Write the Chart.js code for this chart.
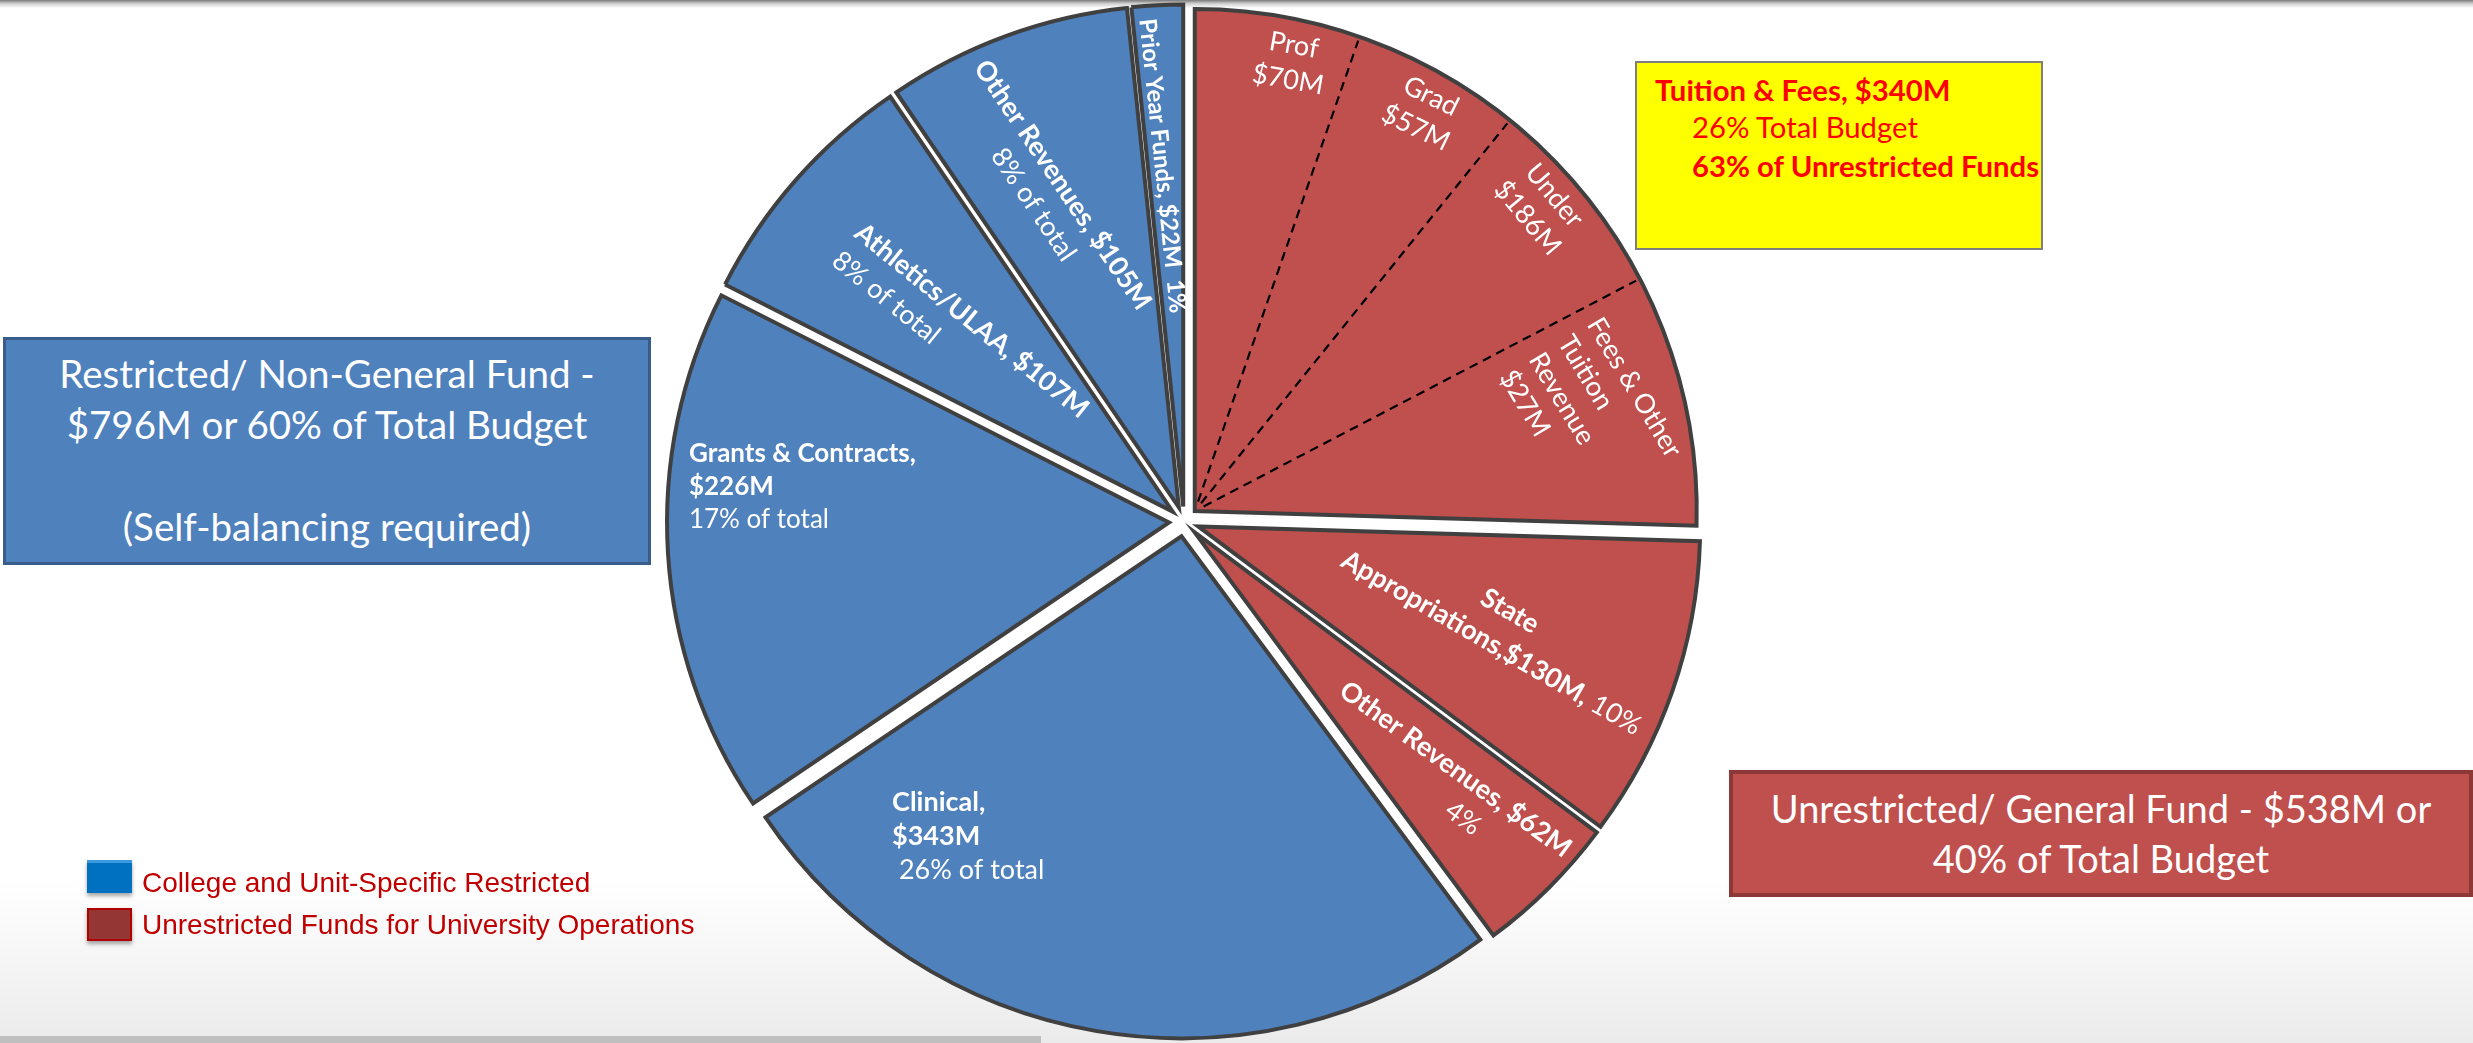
<!DOCTYPE html>
<html>
<head>
<meta charset="utf-8">
<script src="https://cdn.jsdelivr.net/npm/chart.js@4.4.1/dist/chart.umd.min.js"></script>
<style>
html,body{margin:0;padding:0;background:#fff;}
#stage{position:relative;width:2473px;height:1043px;overflow:hidden;background:#fff;font-family:Lato,'Open Sans',sans-serif;}
#topbar{position:absolute;left:0;top:0;width:2473px;height:8px;background:linear-gradient(#7a7a7a,#cfcfcf 45%,#ffffff);}
#bottomgrad{position:absolute;left:0;top:880px;width:2473px;height:163px;background:linear-gradient(#ffffff,#ebebeb);}
#bottombar{position:absolute;left:0;top:1036px;width:1041px;height:7px;background:#bfbfbf;}
#c{position:absolute;left:0;top:0;}
.box{position:absolute;box-sizing:border-box;}
#boxRestricted{left:3px;top:337px;width:648px;height:228px;background:#4F81BD;border:3px solid #385D8A;color:#fff;font-size:38.5px;line-height:51px;text-align:center;padding-top:8px;}
#boxUnrestricted{left:1729px;top:770px;width:744px;height:127px;background:#C0504D;border:4px solid #8C3836;color:#fff;font-size:38px;line-height:50px;text-align:center;padding-top:9px;}
#boxTuition{left:1635px;top:61px;width:408px;height:189px;background:#FFFF00;border:2px solid #7F7F7F;color:#FF0000;font-size:29.3px;line-height:38px;}
#boxTuition div{position:absolute;white-space:nowrap;}
#legend{position:absolute;left:0;top:0;}
.lg-sw{position:absolute;left:87px;width:45px;height:33px;box-sizing:border-box;box-shadow:0 3px 4px rgba(0,0,0,0.35);}
.lg-tx{position:absolute;left:142px;font-family:'Liberation Sans',Arial,sans-serif;font-size:28px;line-height:32px;color:#C00000;white-space:nowrap;}
</style>
</head>
<body>
<div id="stage">
  <div id="topbar"></div>
  <div id="bottomgrad"></div>
  <div id="bottombar"></div>
  <canvas id="c" width="2473" height="1043"></canvas>
  <div class="box" id="boxRestricted">
    <div>Restricted/ Non-General Fund -</div>
    <div>$796M or 60% of Total Budget</div>
    <div>&nbsp;</div>
    <div>(Self-balancing required)</div>
  </div>
  <div class="box" id="boxTuition">
    <div style="left:18px;top:8px;font-weight:bold;">Tuition &amp; Fees, $340M</div>
    <div style="left:55px;top:45px;">26% Total Budget</div>
    <div style="left:55px;top:84px;font-weight:bold;">63% of Unrestricted Funds</div>
  </div>
  <div class="box" id="boxUnrestricted">
    <div>Unrestricted/ General Fund - $538M or</div>
    <div>40% of Total Budget</div>
  </div>
  <div id="legend"></div>
</div>
<script>
// ---------------- DATA ----------------
const categories = ['Tuition & Fees', 'State Appropriations', 'Other Revenues (Unrestricted)', 'Clinical',
                    'Grants & Contracts', 'Athletics/ULAA', 'Other Revenues (Restricted)', 'Prior Year Funds'];
const valuesM = [340, 130, 62, 343, 226, 107, 105, 22];
const fundGroup = ['unrestricted', 'unrestricted', 'unrestricted', 'restricted',
                   'restricted', 'restricted', 'restricted', 'restricted'];
const groupKeys = ['restricted', 'unrestricted'];
const groupLabels = ['College and Unit-Specific Restricted', 'Unrestricted Funds for University Operations'];
const tuitionParts = ['Prof', 'Grad', 'Under', 'Fees & Other Tuition Revenue'];
const tuitionPartsM = [70, 57, 186, 27];

// ---------------- STYLE ----------------
const GROUP_COLORS = {restricted: '#4F81BD', unrestricted: '#C0504D'};
const LEGEND_SWATCH = {restricted: {bg: '#0070C0', bd: '#3C9AE0'}, unrestricted: {bg: '#943634', bd: '#B00000'}};
const EXPLODE_PX = [15, 15, 15, 15, 15, 15, 15, 15];
const DIVIDER_FRACS = [0.209, 0.424, 0.681];   // dashed sub-divisions inside the tuition slice
const FONT = 'Lato';

const R = (t) => ({t, b: false});
const B = (t) => ({t, b: true});
// label placement: slice index, fraction of slice angle, fraction of radius, rotation (deg)
const SLICE_LABELS = [
  {slice: 0, frac: 0.132, r: 0.914, rot: 10, align: 'center', lh: 35, size: 27, lines: [[R('Prof')], [R('$70M')]]},
  {slice: 0, frac: 0.325, r: 0.916, rot: 26, align: 'center', lh: 35, size: 27, lines: [[R('Grad')], [R('$57M')]]},
  {slice: 0, frac: 0.531, r: 0.918, rot: 50, align: 'center', lh: 35, size: 27, lines: [[R('Under')], [R('$186M')]]},
  {slice: 0, frac: 0.710, r: 0.780, rot: 59, align: 'left', lh: 34, size: 27,
   lines: [[R('Fees & Other')], [R('Tuition')], [R('Revenue')], [R('$27M')]]},
  {slice: 1, frac: 0.477, r: 0.635, rot: 30, align: 'center', lh: 37, size: 27,
   lines: [[B('State')], [B('Appropriations,$130M,'), R(' 10%')]]},
  {slice: 2, frac: 0.500, r: 0.707, rot: 36, align: 'center', lh: 35, size: 27,
   lines: [[B('Other Revenues, $62M')], {segs: [R('4%')], dx: 35}]},
  {slice: 3, frac: 0.870, r: 0.831, rot: 0, align: 'left', lh: 34, size: 27,
   lines: [[B('Clinical,')], [B('$343M')], [R(' 26% of total')]]},
  {slice: 4, frac: 0.629, r: 0.959, rot: 0, align: 'left', lh: 33, size: 26,
   lines: [[B('Grants & Contracts,')], [B('$226M')], [R('17% of total')]]},
  {slice: 5, frac: 0.437, r: 0.841, rot: 39, align: 'left', lh: 36, size: 27,
   lines: [[B('Athletics/ULAA, $107M')], [R('8% of total')]]},
  {slice: 6, frac: 0.408, r: 0.675, rot: 56, align: 'center', lh: 35, size: 27,
   lines: [[B('Other Revenues, $105M')], [R('8% of total')]]},
  {slice: 7, frac: 0.410, r: 0.680, rot: 84, align: 'center', lh: 30, size: 24,
   lines: [[B('Prior Year Funds, $22M  1%')]]}
];

// ---------------- exploded pie (library element subclass) ----------------
class ExplodedArc extends Chart.ArcElement {
  static id = 'explodedArc';
  draw(ctx) {
    const t = this.$explode || 0;
    const mid = (this.startAngle + this.endAngle) / 2;
    ctx.save();
    ctx.translate(Math.cos(mid) * t, Math.sin(mid) * t);
    super.draw(ctx);
    ctx.restore();
  }
}
class ExplodedPie extends Chart.PieController {
  static id = 'explodedPie';
  static defaults = {dataElementType: 'explodedArc'};
}
Chart.register(ExplodedArc, ExplodedPie);

function arcInfo(el, i) {
  const p = el.getProps(['x', 'y', 'startAngle', 'endAngle', 'outerRadius'], true);
  const mid = (p.startAngle + p.endAngle) / 2;
  const t = EXPLODE_PX[i] || 0;
  return {cx: p.x + Math.cos(mid) * t, cy: p.y + Math.sin(mid) * t,
          start: p.startAngle, end: p.endAngle, R: p.outerRadius};
}

const explodePlugin = {
  id: 'explode',
  beforeDatasetsDraw(chart) {
    chart.getDatasetMeta(0).data.forEach((el, i) => { el.$explode = EXPLODE_PX[i] || 0; });
  }
};

const labelPlugin = {
  id: 'sliceLabels',
  afterDatasetsDraw(chart) {
    const ctx = chart.ctx;
    const meta = chart.getDatasetMeta(0);
    // dashed sub-dividers inside tuition slice
    const tIdx = categories.indexOf('Tuition & Fees');
    const ta = arcInfo(meta.data[tIdx], tIdx);
    ctx.save();
    ctx.strokeStyle = '#000';
    ctx.lineWidth = 2.2;
    ctx.setLineDash([9, 6]);
    DIVIDER_FRACS.forEach(f => {
      const a = ta.start + f * (ta.end - ta.start);
      ctx.beginPath();
      ctx.moveTo(ta.cx + Math.cos(a) * 10, ta.cy + Math.sin(a) * 10);
      ctx.lineTo(ta.cx + Math.cos(a) * (ta.R - 4), ta.cy + Math.sin(a) * (ta.R - 4));
      ctx.stroke();
    });
    ctx.restore();

    SLICE_LABELS.forEach(spec => {
      const ai = arcInfo(meta.data[spec.slice], spec.slice);
      const a = ai.start + spec.frac * (ai.end - ai.start);
      const px = ai.cx + Math.cos(a) * spec.r * ai.R;
      const py = ai.cy + Math.sin(a) * spec.r * ai.R;
      ctx.save();
      ctx.translate(px, py);
      ctx.rotate(spec.rot * Math.PI / 180);
      ctx.fillStyle = '#ffffff';
      ctx.textBaseline = 'middle';
      ctx.textAlign = 'left';
      const n = spec.lines.length;
      spec.lines.forEach((line, li) => {
        const segs = Array.isArray(line) ? line : line.segs;
        const dx = Array.isArray(line) ? 0 : (line.dx || 0);
        const ly = (li - (n - 1) / 2) * spec.lh;
        const widths = segs.map(s => {
          ctx.font = (s.b ? 'bold ' : '') + spec.size + 'px ' + FONT;
          return ctx.measureText(s.t).width;
        });
        const total = widths.reduce((p, c) => p + c, 0);
        let x = (spec.align === 'left' ? 0 : -total / 2) + dx;
        segs.forEach((s, si) => {
          ctx.font = (s.b ? 'bold ' : '') + spec.size + 'px ' + FONT;
          ctx.fillText(s.t, x, ly);
          x += widths[si];
        });
      });
      ctx.restore();
    });
  }
};

new Chart(document.getElementById('c'), {
  type: 'explodedPie',
  data: {
    labels: categories,
    datasets: [{
      data: valuesM,
      backgroundColor: fundGroup.map(g => GROUP_COLORS[g]),
      borderColor: '#404040',
      borderWidth: 4,
      borderJoinStyle: 'miter',
      radius: 502
    }]
  },
  options: {
    responsive: false,
    animation: false,
    events: [],
    layout: {padding: {left: 0, right: 105, top: 0, bottom: 0}},
    plugins: {legend: {display: false}, tooltip: {enabled: false}, title: {display: false}}
  },
  plugins: [explodePlugin, labelPlugin]
});

// legend (HTML) built from the group arrays
const lg = document.getElementById('legend');
groupKeys.forEach((g, i) => {
  const sw = document.createElement('div');
  sw.className = 'lg-sw';
  sw.style.top = (860 + i * 48) + 'px';
  sw.style.background = LEGEND_SWATCH[g].bg;
  sw.style.borderTop = '3px solid ' + LEGEND_SWATCH[g].bd;
  if (g === 'unrestricted') sw.style.border = '2px solid ' + LEGEND_SWATCH[g].bd;
  lg.appendChild(sw);
  const tx = document.createElement('div');
  tx.className = 'lg-tx';
  tx.style.top = (867 + i * 42) + 'px';
  tx.textContent = groupLabels[i];
  lg.appendChild(tx);
});
</script>
</body>
</html>
